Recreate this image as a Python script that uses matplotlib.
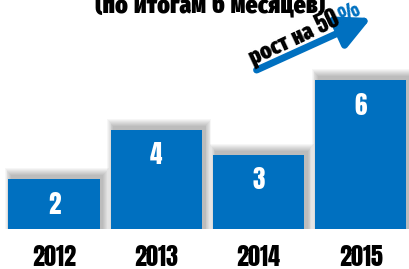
import matplotlib

matplotlib.use("Agg")

import matplotlib.pyplot as plt
import numpy as np

years = ["2012", "2013", "2014", "2015"]
values = [2, 4, 3, 6]
title = "(по итогам 6 месяцев)"
growth = "рост на 50"

BLUE = "#0070C0"
FONT = ["Anton", "Fira Sans Extra Condensed", "DejaVu Sans"]

W, H = 409, 269
fig = plt.figure(figsize=(W / 100, H / 100), dpi=100)
ax = fig.add_axes([0, 0, 1, 1])
ax.set_xlim(-0.528, 3.47)
ax.set_ylim(-1.613, 9.234)
ax.axis("off")

x = np.arange(len(years))
px_x = 1 / 102.3
px_y = 1 / 24.8

# soft shadow: stacked translucent rectangles, shifted up and to the right
for i in range(8, 0, -1):
    ax.bar(x + 3 * px_x, np.array(values) + (3 + i) * px_y,
           width=0.89 + 1.6 * i * px_x, color="black", alpha=0.035,
           linewidth=0, zorder=1)

ax.bar(x, values, width=0.89, color=BLUE, linewidth=0, zorder=2)

for xi, v in zip(x, values):
    ax.text(xi, v - 1.0, str(v), ha="center", va="center", color="white",
            fontsize=18, fontweight=900, family=FONT, zorder=3)

for xi, yr in zip(x, years):
    ax.text(xi, -1.13, yr, ha="center", va="center", color="black",
            fontsize=17.5, fontweight=900, family=FONT)

fig.text(0.515, 1 - 12 / H, title, ha="center", va="baseline",
         fontsize=18.5, fontweight=900, family=FONT)

# growth arrow
ax.annotate("", xy=(3.10, 8.51), xytext=(1.98, 6.41),
            arrowprops=dict(arrowstyle="-|>,head_length=2.0,head_width=1.0",
                            color=BLUE, lw=5, shrinkA=0, shrinkB=0),
            zorder=4)
ax.text(2.34, 7.72, growth, ha="center", va="center", rotation=25,
        fontsize=16.5, fontweight=900, family=FONT, zorder=5)
ax.text(2.88, 8.72, "%", ha="center", va="center", rotation=25,
        fontsize=14, fontweight=900, family=FONT, color=BLUE, zorder=5)

fig.savefig("out.png", dpi=100)
